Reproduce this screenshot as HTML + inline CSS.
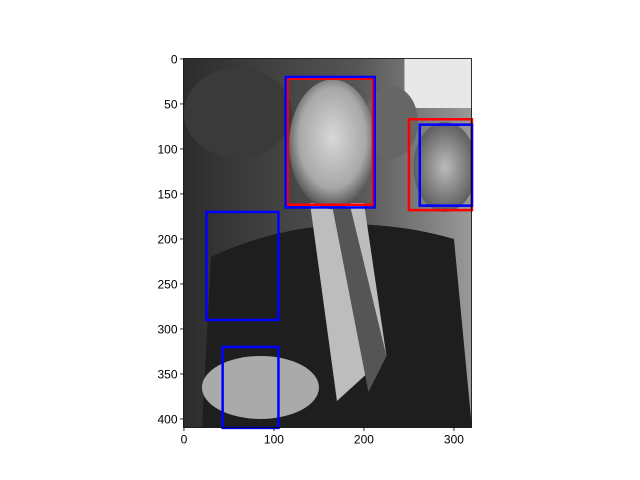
<!DOCTYPE html>
<html><head><meta charset="utf-8"><style>body{margin:0;background:#fff}svg{display:block}text{font-family:"Liberation Sans",sans-serif;font-size:12px;fill:#000}</style></head>
<body>
<svg id="c" width="640" height="480">
<defs>
<radialGradient id="face" cx="0.5" cy="0.45" r="0.55"><stop offset="0" stop-color="#d8d8d8"/><stop offset="0.7" stop-color="#a8a8a8"/><stop offset="1" stop-color="#505050"/></radialGradient>
<radialGradient id="face2" cx="0.5" cy="0.5" r="0.55"><stop offset="0" stop-color="#bbb"/><stop offset="1" stop-color="#555"/></radialGradient>
<linearGradient id="bg" x1="0" y1="0" x2="1" y2="0"><stop offset="0" stop-color="#2c2c2c"/><stop offset="0.6" stop-color="#555"/><stop offset="1" stop-color="#999"/></linearGradient>
<clipPath id="clip"><rect x="183.5" y="58.5" width="288" height="369"/></clipPath>
</defs>
<g id="img" clip-path="url(#clip)"></g>
<g id="boxes"></g>
<g id="axes"></g>
</svg>
<script>
const imgW = 320, imgH = 410;
const xTicks = [0, 100, 200, 300];
const yTicks = [0, 50, 100, 150, 200, 250, 300, 350, 400];
const boxX0 = [115, 113, 250, 262, 25, 43];
const boxX1 = [210, 212, 320, 320, 105, 105];
const boxY0 = [22, 20, 67, 73, 170, 320];
const boxY1 = [162, 165, 168, 163, 290, 410];
const boxColor = ['red', 'blue', 'red', 'blue', 'blue', 'blue'];

const L = 183.5, T = 58.5, S = 0.9;
const sx = v => L + (v + 0.5) * S;
const sy = v => T + (v + 0.5) * S;
const NS = 'http://www.w3.org/2000/svg';
function mk(tag, attrs, parent) { const e = document.createElementNS(NS, tag); for (const k in attrs) e.setAttribute(k, attrs[k]); parent.appendChild(e); return e; }

const img = document.getElementById('img');
mk('rect', {x: L, y: T, width: imgW * S, height: imgH * S, fill: 'url(#bg)'}, img);
mk('rect', {x: sx(245), y: T, width: 80 * S, height: 55 * S, fill: '#e8e8e8'}, img);
mk('ellipse', {cx: sx(60), cy: sy(60), rx: 60 * S, ry: 50 * S, fill: '#3a3a3a'}, img);
mk('ellipse', {cx: sx(230), cy: sy(70), rx: 30 * S, ry: 40 * S, fill: '#666'}, img);
mk('path', {d: `M${sx(20)} ${sy(410)} L${sx(30)} ${sy(220)} Q${sx(160)} ${sy(160)} ${sx(300)} ${sy(200)} L${sx(320)} ${sy(410)} Z`, fill: '#1e1e1e'}, img);
mk('path', {d: `M${sx(140)} ${sy(160)} L${sx(200)} ${sy(160)} L${sx(225)} ${sy(330)} L${sx(170)} ${sy(380)} Z`, fill: '#bdbdbd'}, img);
mk('path', {d: `M${sx(165)} ${sy(165)} L${sx(185)} ${sy(165)} L${sx(225)} ${sy(330)} L${sx(205)} ${sy(370)} Z`, fill: '#555'}, img);
mk('ellipse', {cx: sx(165), cy: sy(95), rx: 48 * S, ry: 72 * S, fill: 'url(#face)'}, img);
mk('ellipse', {cx: sx(290), cy: sy(120), rx: 35 * S, ry: 50 * S, fill: 'url(#face2)'}, img);
mk('ellipse', {cx: sx(85), cy: sy(365), rx: 65 * S, ry: 35 * S, fill: '#aaa'}, img);

const bg = document.getElementById('boxes');
for (let i = 0; i < boxX0.length; i++) {
  const r = mk('rect', {x: sx(boxX0[i]), y: sy(boxY0[i]), width: (boxX1[i] - boxX0[i]) * S, height: (boxY1[i] - boxY0[i]) * S, fill: 'none', stroke: boxColor[i], 'stroke-width': 2.5}, bg);
  
  
}

const ax = document.getElementById('axes');
const fr = mk('rect', {x: L, y: T, width: imgW * S, height: imgH * S, fill: 'none', stroke: '#000', 'stroke-width': 0.8}, ax);


const bottom = T + imgH * S;
xTicks.forEach(v => {
  mk('line', {x1: sx(v), x2: sx(v), y1: bottom, y2: bottom + 3.5, stroke: '#000', 'stroke-width': 0.8}, ax);
  const t = mk('text', {x: sx(v), y: bottom + 16, 'text-anchor': 'middle'}, ax);
  t.textContent = v;
  
  
});
yTicks.forEach(v => {
  mk('line', {x1: L, x2: L - 3.5, y1: sy(v), y2: sy(v), stroke: '#000', 'stroke-width': 0.8}, ax);
  const t = mk('text', {x: L - 6, y: sy(v) + 4.5, 'text-anchor': 'end'}, ax);
  t.textContent = v;
  
  
});
</script>
</body></html>
